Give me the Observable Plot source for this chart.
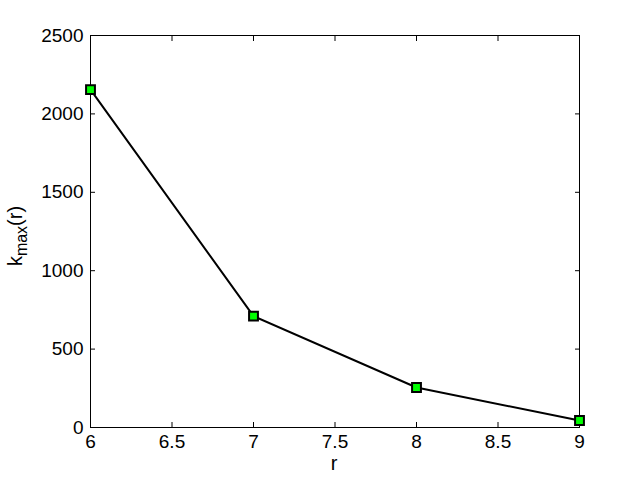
<!DOCTYPE html>
<html><head><meta charset="utf-8">
<script src="https://cdn.jsdelivr.net/npm/d3@7"></script>
<script src="https://cdn.jsdelivr.net/npm/@observablehq/plot@0.6"></script>
<style>body{margin:0;background:#fff}</style>
</head><body><div id="chart"></div>
<script>
const r = [6, 7, 8, 9];
const kmax = [2155, 710, 255, 45];
const xTicks = [6, 6.5, 7, 7.5, 8, 8.5, 9];
const yTicks = [0, 500, 1000, 1500, 2000, 2500];

const data = r.map((v, i) => ({r: v, k: kmax[i]}));
const font = "Liberation Sans, Arial, Helvetica, sans-serif";

const plot = Plot.plot({
  width: 640, height: 480,
  marginLeft: 90, marginRight: 61, marginTop: 35, marginBottom: 53,
  style: {fontFamily: font, fontSize: "19px", color: "#000", background: "#fff"},
  x: {domain: [6, 9], ticks: xTicks, tickFormat: d => String(d), label: null},
  y: {domain: [0, 2500], ticks: yTicks, tickFormat: d => String(d), label: null},
  marks: [
    Plot.frame({stroke: "#000", strokeWidth: 1}),
    Plot.axisX({ticks: xTicks, anchor: "bottom", tickSize: -5, tickPadding: 12, fontSize: 19, tickFormat: d => String(d), label: null, stroke: "#000"}),
    Plot.axisX({ticks: xTicks, anchor: "top", tickSize: -5, text: null, label: null, stroke: "#000"}),
    Plot.axisY({ticks: yTicks, anchor: "left", tickSize: -5, tickPadding: 12, fontSize: 19, tickFormat: d => String(d), label: null, stroke: "#000"}),
    Plot.axisY({ticks: yTicks, anchor: "right", tickSize: -5, text: null, label: null, stroke: "#000"}),
    Plot.line(data, {x: "r", y: "k", stroke: "#000", strokeWidth: 2}),
    Plot.dot(data, {x: "r", y: "k", symbol: "square", r: 5, fill: "#00ff00", stroke: "#000", strokeWidth: 2})
  ]
});

const svg = d3.select(plot);
svg.append("text")
  .attr("x", 334).attr("y", 470)
  .attr("text-anchor", "middle")
  .attr("font-family", font).attr("font-size", 20)
  .text("r");
const yl = svg.append("text")
  .attr("transform", "translate(22,236) rotate(-90)")
  .attr("text-anchor", "middle")
  .attr("font-family", font).attr("font-size", 20);
yl.append("tspan").text("k");
yl.append("tspan").attr("font-size", 16).attr("dy", 5).text("max");
yl.append("tspan").attr("dy", -5).text("(r)");

document.getElementById("chart").appendChild(plot);
</script>
</body></html>
